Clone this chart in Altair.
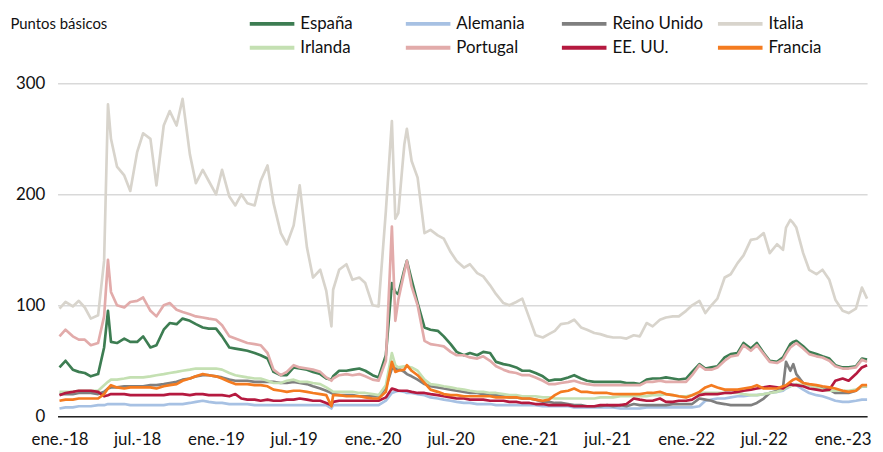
import altair as alt
import pandas as pd

FONT = "Lato"

SERIES = ["España", "Alemania", "Reino Unido", "Italia", "Irlanda", "Portugal", "EE. UU.", "Francia"]
COLORS = ["#3d7d52", "#a7c1e3", "#7f7f7f", "#d8d4cc", "#c4e0b2", "#e2abaa", "#b5193f", "#f47b20"]

# semi-monthly grid (1st and 15th) plus a few extra dates at sharp moves
GRID_START = "2018-01-01"
GRID_END = "2023-02-15"
EXTRA_DATES = ["2018-04-24", "2019-09-27", "2020-02-23", "2020-03-21",
               "2022-08-22", "2022-09-08", "2023-02-27"]

ESPANA = [
    44, 50, 42, 40, 39, 36, 38, 62, 95, 67, 66, 70, 67, 67, 72, 62, 64, 78, 84, 83, 88, 86, 83, 80, 79,
    79, 72, 62, 61, 60, 59, 57, 55, 52, 40, 37, 37, 44, 43, 42, 40, 38, 34, 33, 36, 41, 41, 42, 43, 41,
    37, 35, 55, 120, 112, 110, 132, 140, 123, 102, 80, 78, 77, 72, 65, 58, 55, 57, 55, 58, 57, 49, 47, 46, 44, 41,
    41, 39, 36, 32, 33, 33, 35, 37, 34, 32, 31, 31, 31, 31, 31, 30, 30, 29, 33, 34, 34, 35, 34, 33,
    34, 40, 47, 43, 44, 45, 53, 56, 57, 66, 61, 66, 57, 50, 49, 53, 58, 65, 67, 68, 63, 58, 56, 54, 52, 46,
    44, 44, 45, 52, 51,
]
ALEMANIA = [
    7, 8, 8, 9, 9, 9, 10, 10, 11, 11, 11, 11, 10, 10, 10, 10, 10, 10, 11, 11, 11, 12, 13, 14, 13,
    12, 12, 11, 11, 11, 11, 10, 10, 10, 10, 10, 10, 10, 10, 10, 10, 10, 10, 7, 10, 10, 10, 10, 10, 10,
    10, 10, 14, 21, 22, 23, 22, 21, 21, 20, 19, 17, 16, 15, 14, 13, 12, 12, 11, 11, 11, 10, 10, 10, 10, 10,
    10, 10, 9, 9, 9, 9, 9, 8, 8, 8, 8, 8, 8, 8, 7, 7, 7, 7, 8, 8, 8, 8, 8, 8,
    8, 8, 9, 14, 15, 16, 16, 17, 18, 18, 19, 19, 20, 21, 22, 23, 25, 27, 29, 28, 24, 21, 19, 18, 16, 14,
    13, 13, 14, 15, 15,
]
REINO_UNIDO = [
    20, 20, 20, 21, 21, 21, 20, 22, 25, 26, 26, 27, 27, 27, 27, 28, 28, 29, 30, 31, 33, 34, 36, 37, 37,
    36, 35, 33, 32, 32, 32, 31, 31, 31, 31, 30, 30, 31, 30, 29, 27, 25, 23, 21, 20, 19, 19, 19, 18, 18,
    18, 18, 26, 43, 43, 43, 40, 38, 36, 33, 29, 27, 26, 25, 24, 23, 22, 21, 21, 20, 19, 19, 18, 17, 17, 16,
    16, 15, 13, 13, 12, 12, 11, 10, 10, 9, 9, 9, 10, 9, 10, 9, 11, 10, 10, 10, 10, 10, 11, 11,
    11, 11, 16, 15, 14, 12, 11, 10, 10, 10, 10, 12, 16, 21, 23, 26, 49, 41, 47, 38, 30, 28, 27, 25, 24, 21,
    21, 21, 23, 27, 27,
]
ITALIA = [
    97, 103, 99, 104, 98, 88, 91, 140, 281, 250, 225, 217, 203, 238, 255, 250, 208, 262, 275, 262, 286, 236, 210, 222, 212,
    200, 222, 198, 190, 200, 192, 190, 212, 226, 192, 165, 155, 172, 208, 152, 125, 132, 113, 81, 114, 132, 137, 123, 125, 120,
    100, 99, 185, 266, 178, 183, 245, 259, 230, 215, 165, 168, 163, 160, 148, 140, 134, 137, 129, 126, 118, 110, 102, 100, 103, 106,
    88, 73, 71, 74, 77, 83, 84, 87, 80, 78, 75, 74, 72, 71, 71, 70, 73, 72, 84, 81, 87, 89, 90, 90,
    95, 100, 104, 93, 100, 106, 125, 128, 138, 145, 159, 160, 165, 147, 155, 150, 170, 177, 174, 170, 147, 132, 128, 132, 123, 105,
    95, 93, 97, 116, 106,
]
IRLANDA = [
    22, 22, 22, 23, 23, 23, 23, 28, 31, 33, 33, 34, 35, 35, 35, 36, 37, 38, 39, 40, 41, 42, 43, 43, 43,
    43, 42, 39, 37, 36, 35, 34, 34, 32, 30, 30, 32, 33, 31, 31, 30, 29, 26, 23, 22, 22, 22, 22, 21, 21,
    20, 19, 28, 57, 46, 44, 45, 45, 44, 41, 33, 29, 28, 27, 26, 25, 24, 23, 22, 22, 21, 21, 20, 19, 19, 18,
    18, 18, 17, 17, 16, 16, 16, 16, 16, 16, 16, 17, 17, 17, 18, 18, 18, 18, 18, 19, 19, 20, 19, 18,
    18, 19, 21, 21, 21, 21, 21, 21, 21, 20, 19, 19, 20, 21, 22, 24, 26, 27, 28, 29, 28, 28, 26, 24, 23, 23,
    23, 23, 24, 27, 27,
]
PORTUGAL = [
    72, 78, 72, 69, 69, 64, 66, 90, 141, 112, 100, 98, 103, 104, 107, 95, 90, 100, 102, 96, 94, 92, 90, 89, 88,
    87, 82, 72, 70, 68, 66, 65, 64, 57, 42, 37, 40, 46, 44, 43, 42, 40, 35, 32, 34, 37, 38, 37, 38, 36,
    33, 32, 50, 171, 86, 105, 130, 140, 117, 100, 68, 65, 64, 63, 58, 55, 55, 53, 52, 54, 50, 45, 42, 40, 39, 37,
    37, 35, 32, 29, 29, 30, 31, 32, 30, 29, 28, 28, 28, 28, 28, 28, 28, 28, 31, 31, 32, 31, 31, 31,
    31, 37, 46, 42, 42, 44, 50, 54, 55, 64, 59, 64, 56, 49, 48, 51, 56, 62, 64, 66, 61, 56, 54, 53, 50, 45,
    43, 43, 44, 51, 49,
]
EEUU = [
    19, 21, 22, 23, 23, 23, 22, 18, 19, 20, 20, 20, 19, 19, 19, 19, 19, 19, 20, 20, 20, 19, 20, 20, 19,
    19, 19, 18, 20, 16, 15, 15, 14, 15, 14, 14, 15, 15, 16, 15, 14, 14, 12, 10, 13, 14, 14, 14, 14, 14,
    14, 14, 17, 25, 24, 23, 23, 23, 22, 21, 21, 20, 19, 18, 17, 16, 16, 15, 15, 15, 14, 14, 14, 13, 13, 12,
    12, 11, 11, 10, 10, 10, 10, 9, 9, 9, 9, 10, 10, 10, 10, 11, 16, 15, 14, 14, 16, 13, 13, 14,
    14, 15, 19, 20, 20, 20, 21, 21, 22, 23, 24, 25, 26, 27, 26, 25, 27, 29, 28, 28, 27, 25, 24, 23, 24, 32,
    34, 32, 38, 44, 46,
]
FRANCIA = [
    14, 15, 15, 16, 16, 16, 16, 20, 25, 28, 26, 25, 26, 26, 26, 26, 25, 27, 28, 29, 32, 34, 36, 38, 37,
    36, 34, 31, 29, 29, 29, 28, 28, 27, 24, 23, 22, 23, 23, 22, 21, 20, 19, 9, 19, 19, 18, 18, 18, 17,
    16, 16, 22, 49, 40, 41, 42, 46, 41, 37, 30, 24, 22, 20, 19, 19, 18, 18, 18, 18, 18, 17, 17, 17, 17, 16,
    16, 15, 14, 15, 19, 22, 23, 25, 22, 22, 21, 21, 21, 20, 20, 20, 20, 20, 21, 21, 22, 20, 19, 18,
    17, 19, 22, 26, 28, 26, 24, 24, 24, 25, 26, 28, 25, 25, 25, 27, 28, 31, 33, 34, 30, 29, 28, 27, 26, 25,
    23, 22, 23, 28, 28,
]

VALUES = [ESPANA, ALEMANIA, REINO_UNIDO, ITALIA, IRLANDA, PORTUGAL, EEUU, FRANCIA]

dates = sorted(list(pd.date_range(GRID_START, GRID_END, freq="SMS")) + list(pd.to_datetime(EXTRA_DATES)))

rows = []
for name, vals in zip(SERIES, VALUES):
    assert len(vals) == len(dates), (name, len(vals), len(dates))
    for d, v in zip(dates, vals):
        rows.append({"fecha": d, "serie": name, "valor": v})
df = pd.DataFrame(rows)

TICKS = [alt.DateTime(year=y, month=m, date=1) for y in range(2018, 2024) for m in (1, 7)
         if not (y == 2023 and m == 7)]

x = alt.X(
    "fecha:T",
    scale=alt.Scale(domain=[alt.DateTime(year=2017, month=12, date=27, hours=10),
                            alt.DateTime(year=2023, month=2, date=27)]),
    axis=alt.Axis(
        values=TICKS,
        labelExpr="(month(datum.value) == 0 ? 'ene.-' : 'jul.-') + timeFormat(datum.value, '%y')",
        grid=False, ticks=False, domainColor="#222222", domainWidth=1.5,
        labelFontSize=17, labelFont=FONT, labelColor="#111111", labelPadding=15,
        labelOverlap=False, labelBound=False, labelFlush=False, title=None,
    ),
)
y = alt.Y(
    "valor:Q",
    scale=alt.Scale(domain=[0, 300], nice=False),
    axis=alt.Axis(
        values=[0, 100, 200, 300], grid=True, gridColor="#d9d9d9", gridWidth=1.5,
        domain=False, ticks=False, labelFontSize=17, labelFont=FONT, labelColor="#111111",
        labelPadding=13,
        title="Puntos básicos", titleAngle=0, titleX=-48, titleY=-60, titleAlign="left",
        titleBaseline="middle", titleFontSize=15, titleFont=FONT, titleFontWeight="normal",
        titleColor="#111111",
    ),
)
color = alt.Color(
    "serie:N",
    scale=alt.Scale(domain=SERIES, range=COLORS),
    legend=alt.Legend(
        title=None, orient="none", legendX=192, legendY=-70, direction="horizontal",
        columns=4, symbolType="stroke", symbolSize=2025, symbolStrokeWidth=4,
        labelFontSize=17, labelFont=FONT, labelColor="#111111", labelOffset=4,
        gridAlign="all", columnPadding=12.5, rowPadding=4, padding=0, clipHeight=20,
    ),
)

layers = []
for name in SERIES:
    layers.append(
        alt.Chart(df)
        .transform_filter(alt.datum.serie == name)
        .mark_line(strokeWidth=2.7, strokeJoin="round")
        .encode(x=x, y=y, color=color)
    )

chart = (
    alt.layer(*layers)
    .properties(
        width=817, height=336,
        autosize=alt.AutoSizeParams(type="none"),
        padding={"left": 50, "top": 74, "right": 8, "bottom": 30},
    )
    .configure_view(stroke=None)
)

chart.save("out.html", embed_options={"renderer": "svg", "actions": False})
